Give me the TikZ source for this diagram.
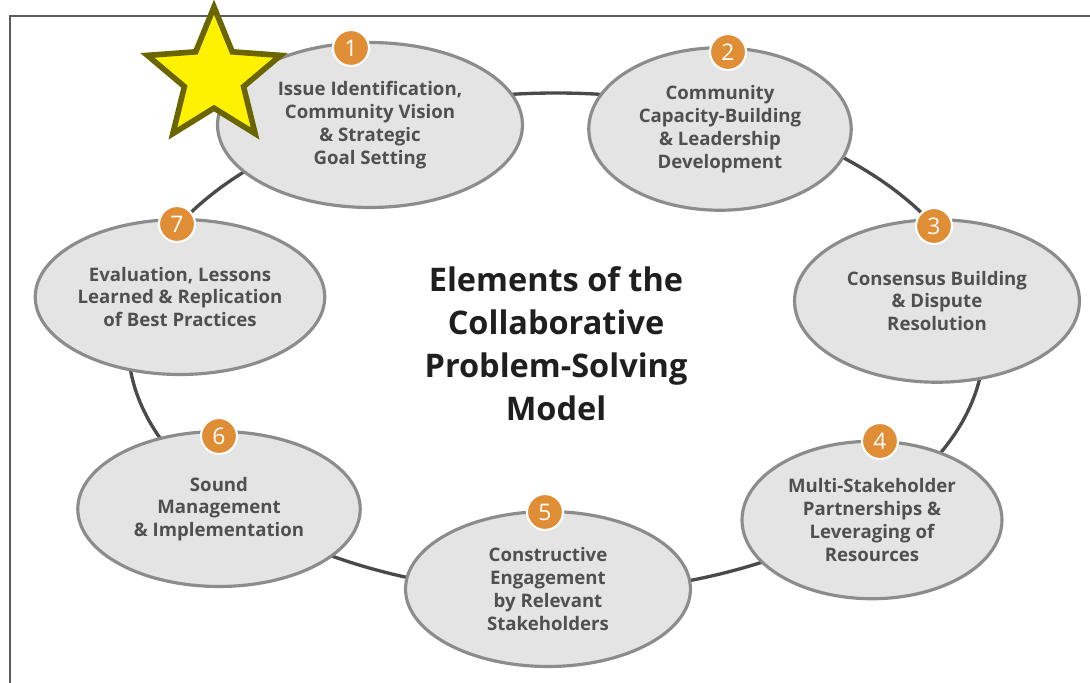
\documentclass[tikz,border=0pt]{standalone}
\usepackage{fontspec}
\setmainfont{Open Sans}
\usetikzlibrary{shapes.geometric}
\definecolor{ringgray}{HTML}{4A4A4A}
\definecolor{elemfill}{HTML}{E4E4E4}
\definecolor{elemline}{HTML}{8C8C8C}
\definecolor{elemtext}{HTML}{505050}
\definecolor{badgeorange}{HTML}{E08E36}
\definecolor{starolive}{HTML}{6B6500}
\begin{document}
\begin{tikzpicture}[x=0.02cm, y=-0.02cm,
    elem/.style={ellipse, draw=elemline, fill=elemfill, line width=1.8pt, inner sep=0pt,
      align=center, text=elemtext, font=\bfseries\fontsize{10.6}{13}\selectfont},
    badge/.style={circle, fill=badgeorange, draw=white, line width=1.2pt, minimum size=0.72cm,
      inner sep=0pt, text=white, font=\fontsize{13}{13}\selectfont}]
  \useasboundingbox (0, 0) rectangle (1090, 683);
  \fill[white] (0, 0) rectangle (1090, 683);
  \draw[ringgray!90, line width=1.2pt] (1090, 16) -- (10, 16) -- (10, 683);
  % ring behind the elements
  \coordinate (c) at (556, 343);
  \draw[ringgray, line width=1.9pt] (c) ellipse [x radius=428, y radius=250];
  \node[elem, minimum width=6.1cm, minimum height=3.3cm] (e1) at (370, 125)
    {Issue Identification,\\Community Vision\\\& Strategic\\Goal Setting};
  \node[elem, minimum width=5.25cm, minimum height=3.25cm] (e2) at (720, 129)
    {Community\\Capacity-Building\\\& Leadership\\Development};
  \node[elem, minimum width=5.7cm, minimum height=3.25cm] (e3) at (937, 301)
    {Consensus Building\\\& Dispute\\Resolution};
  \node[elem, minimum width=5.2cm, minimum height=3.15cm] (e4) at (872, 520)
    {Multi-Stakeholder\\Partnerships \&\\Leveraging of\\Resources};
  \node[elem, minimum width=5.7cm, minimum height=3.1cm] (e5) at (548, 589)
    {Constructive\\Engagement\\by Relevant\\Stakeholders};
  \node[elem, minimum width=5.65cm, minimum height=3.1cm] (e6) at (219, 509)
    {Sound\\Management\\\& Implementation};
  \node[elem, minimum width=5.7cm, minimum height=3.1cm] (e7) at (180, 297)
    {Evaluation, Lessons\\Learned \& Replication\\of Best Practices};
  \node[badge] (b1) at (351, 48) {1};
  \node[badge] (b2) at (728, 52) {2};
  \node[badge] (b3) at (934, 226) {3};
  \node[badge] (b4) at (880, 441) {4};
  \node[badge] (b5) at (545, 512) {5};
  \node[badge] (b6) at (219, 436) {6};
  \node[badge] (b7) at (177, 224) {7};
  \node[align=center, font=\bfseries\fontsize{18.5}{24.5}\selectfont, text=black!88] (title) at (556, 344)
    {Elements of the\\Collaborative\\Problem-Solving\\Model};
  \node[star, star points=5, star point ratio=2.25, minimum size=2.8cm, inner sep=0pt,
    fill=yellow, draw=starolive, line width=3.2pt] (mark) at (214, 77) {};
\end{tikzpicture}
\end{document}
